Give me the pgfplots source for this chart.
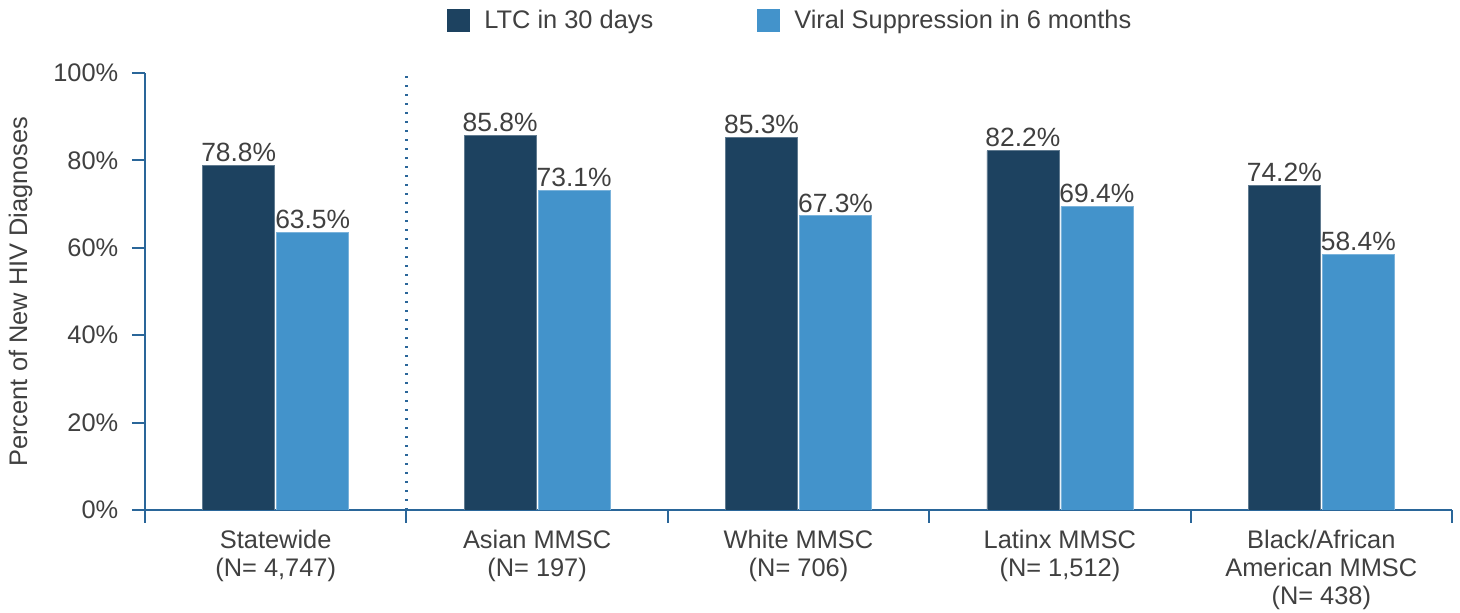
\documentclass[border=0pt]{standalone}
\usepackage{fontspec}
\setmainfont{Liberation Sans}
\usepackage{pgfplots}
\pgfplotsset{compat=1.18}
\definecolor{darkbar}{HTML}{1D4260}
\definecolor{lightbar}{HTML}{4393CB}
\definecolor{axisblue}{HTML}{2A6699}
\definecolor{txt}{HTML}{404040}
\newcommand{\fs}{\fontsize{12.7}{14}\selectfont}
\begin{document}
\begin{tikzpicture}
\begin{axis}[
  name=ax,
  scale only axis, width=653.5pt, height=218.5pt,
  xmin=-0.5, xmax=4.5, ymin=0, ymax=100,
  axis x line*=bottom, axis y line*=left,
  axis line style={axisblue, line width=1pt, -},
  tick align=outside,
  major tick length=6.5pt, minor tick length=6.5pt,
  tick style={axisblue, line width=1pt},
  xtick={0,1,2,3,4},
  major x tick style={draw=none},
  minor xtick={-0.5,0.5,1.5,2.5,3.5,4.5},
  xticklabels={{Statewide\\(N= 4,747)},{Asian MMSC\\(N= 197)},{White MMSC\\(N= 706)},{Latinx MMSC\\(N= 1,512)},{Black/African\\American MMSC\\(N= 438)}},
  x tick label style={align=center, font=\fs, text=txt},
  ytick={0,20,40,60,80,100},
  yticklabels={0\%,20\%,40\%,60\%,80\%,100\%},
  y tick label style={font=\fs, text=txt, xshift=-3.3pt},
  ylabel={Percent of New HIV Diagnoses},
  ylabel style={at={(axis description cs:-0.0953,0.5)}, anchor=center, font=\fs, text=txt},
  /pgf/number format/assume math mode=true,
  ybar, bar width=36pt,
  nodes near coords={\pgfmathprintnumber[fixed,fixed zerofill,precision=1]{\pgfplotspointmeta}\%},
  every node near coord/.append style={font=\fontsize{13.2}{15}\selectfont, text=txt, inner sep=1.6pt},
  legend columns=2,
  legend style={at={(rel axis cs:0.493,1.12)}, anchor=center, draw=none, font=\fs, text=txt,
    nodes={inner sep=0pt},
    /tikz/every odd column/.append style={column sep=7pt},
    /tikz/every even column/.append style={column sep=52pt}},
  legend image code/.code={\fill[#1, draw=none] (0pt,-5.75pt) rectangle (11.5pt,5.75pt);},
]
\addplot[fill=darkbar, draw=darkbar!70!white, line width=0.4pt, bar shift=-18.5pt] coordinates {(0,78.8) (1,85.8) (2,85.3) (3,82.2) (4,74.2)};
\addlegendentry{LTC in 30 days}
\addplot[fill=lightbar, draw=lightbar!70!white, line width=0.4pt, bar shift=18.5pt] coordinates {(0,63.5) (1,73.1) (2,67.3) (3,69.4) (4,58.4)};
\addlegendentry{Viral Suppression in 6 months}
\draw[axisblue, line width=1.2pt, dash pattern=on 1.1pt off 3.4pt] (axis cs:0.5,0) -- (axis cs:0.5,101);
\end{axis}
\pgfresetboundingbox
\path ([shift={(-72.5pt,-51.5pt)}]ax.south west) rectangle ([shift={(4pt,36.5pt)}]ax.north east);
\end{tikzpicture}
\end{document}
